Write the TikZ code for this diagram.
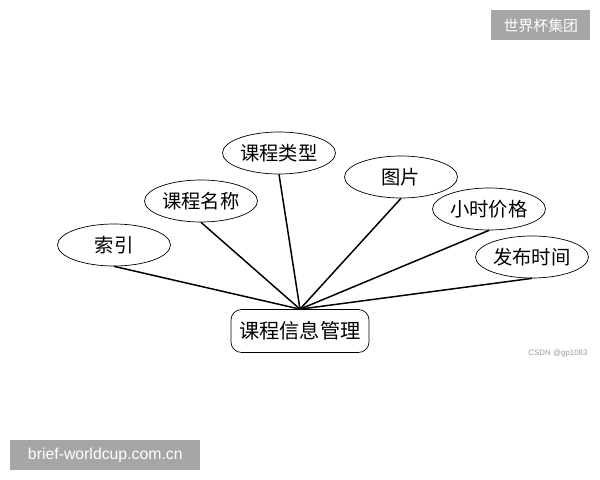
\documentclass[tikz,border=0pt]{standalone}
\usepackage{fontspec}
\setmainfont{Liberation Sans}
\newfontfamily\cjk{Noto Sans CJK SC}
\usetikzlibrary{shapes.geometric}

\begin{document}
\begin{tikzpicture}[x=0.02cm,y=-0.02cm]
\tikzstyle{attr}=[ellipse, draw, thin, minimum width=2.26cm, minimum height=0.84cm, inner sep=0pt, font=\cjk\fontsize{11}{13}\selectfont]
\tikzstyle{entity}=[draw, thin, rounded corners=6pt, minimum width=2.76cm, minimum height=0.86cm, font=\cjk\fontsize{11.5}{13}\selectfont]
\tikzstyle{wmark}=[fill=black!35, text=white, inner sep=0pt, anchor=north west]
\tikzstyle{link}=[line width=0.85pt]

\useasboundingbox (0,0) rectangle (600,480);

\node[entity] (info) at (300,331) {课程信息管理};

\node[attr] (index) at (114,245) {索引};
\node[attr] (name) at (201,201) {课程名称};
\node[attr] (type) at (279,153) {课程类型};
\node[attr] (pic) at (401,177) {图片};
\node[attr] (price) at (489,209) {小时价格};
\node[attr] (time) at (532,257) {发布时间};

\foreach \a in {index,name,type,pic,price,time}
  \draw[link] (\a.south) -- (info.north);

% watermarks
\node[wmark, minimum width=1.98cm, minimum height=0.6cm, font=\cjk\fontsize{8.5}{10}\selectfont] (wm1) at (491,10) {世界杯集团};
\node[wmark, minimum width=3.8cm, minimum height=0.6cm, font=\fontsize{9}{10}\selectfont] (wm2) at (10,440) {brief-worldcup.com.cn};
\node[text=black!40, font=\fontsize{4.5}{5}\selectfont] (csdn) at (558,353) {CSDN @gp1083};
\end{tikzpicture}
\end{document}
